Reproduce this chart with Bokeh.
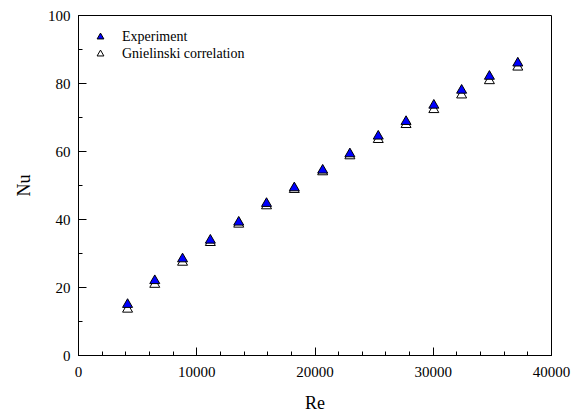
from bokeh.plotting import figure
from bokeh.models import Range1d, SingleIntervalTicker, Legend, LegendItem
from bokeh.embed import file_html
from bokeh.resources import INLINE

re_vals = [4150, 6450, 8800, 11150, 13550, 15900, 18250, 20650, 22950, 25350, 27700, 30050, 32400, 34750, 37150]
nu_experiment = [15.0, 22.0, 28.4, 33.9, 39.2, 44.7, 49.3, 54.5, 59.3, 64.5, 68.8, 73.6, 78.0, 82.1, 86.0]
nu_gnielinski = [13.6, 20.9, 27.4, 33.2, 38.6, 44.0, 48.8, 54.0, 58.7, 63.5, 67.9, 72.3, 76.6, 80.8, 84.8]

FONT = "Times New Roman, Liberation Serif, serif"

p = figure(width=579, height=415, output_backend="svg", toolbar_location=None,
           x_range=Range1d(0, 40000), y_range=Range1d(0, 100),
           min_border_left=78, min_border_right=28, min_border_top=15, min_border_bottom=59)

p.xgrid.visible = False
p.ygrid.visible = False
p.outline_line_color = "black"
p.outline_line_width = 1
p.outline_line_alpha = 1

p.xaxis.ticker = SingleIntervalTicker(interval=10000, num_minor_ticks=5)
p.yaxis.ticker = SingleIntervalTicker(interval=20, num_minor_ticks=2)

for ax in (p.xaxis[0], p.yaxis[0]):
    ax.major_tick_in = 8
    ax.major_tick_out = 0
    ax.minor_tick_in = 4
    ax.minor_tick_out = 0
    ax.axis_line_color = "black"
    ax.major_tick_line_color = "black"
    ax.minor_tick_line_color = "black"
    ax.major_label_text_font = FONT
    ax.major_label_text_font_size = "15px"
    ax.major_label_text_color = "black"
    ax.axis_label_text_font = FONT
    ax.axis_label_text_font_size = "18px"
    ax.axis_label_text_font_style = "normal"
    ax.axis_label_text_color = "black"

p.xaxis.axis_label = "Re"
p.yaxis.axis_label = "Nu"
p.xaxis.major_label_standoff = 11
p.yaxis.major_label_standoff = 8
p.xaxis.axis_label_standoff = 13
p.yaxis.axis_label_standoff = 11

g = p.scatter(re_vals, nu_gnielinski, marker="triangle", size=10,
              fill_color="white", line_color="black", line_width=1)
e = p.scatter(re_vals, nu_experiment, marker="triangle", size=10,
              fill_color="#0000ff", line_color="black", line_width=1)

legend = Legend(items=[LegendItem(label="Experiment", renderers=[e]),
                       LegendItem(label="Gnielinski correlation", renderers=[g])],
                location="top_left")
legend.margin = 13
legend.padding = 0
legend.spacing = 0
legend.glyph_width = 18
legend.glyph_height = 17
legend.label_height = 17
legend.label_standoff = 13
legend.label_text_font = FONT
legend.label_text_font_size = "14px"
legend.label_text_color = "black"
legend.border_line_color = None
legend.background_fill_alpha = 0
p.add_layout(legend, "center")

open("out.html", "w").write(file_html(p, INLINE))
